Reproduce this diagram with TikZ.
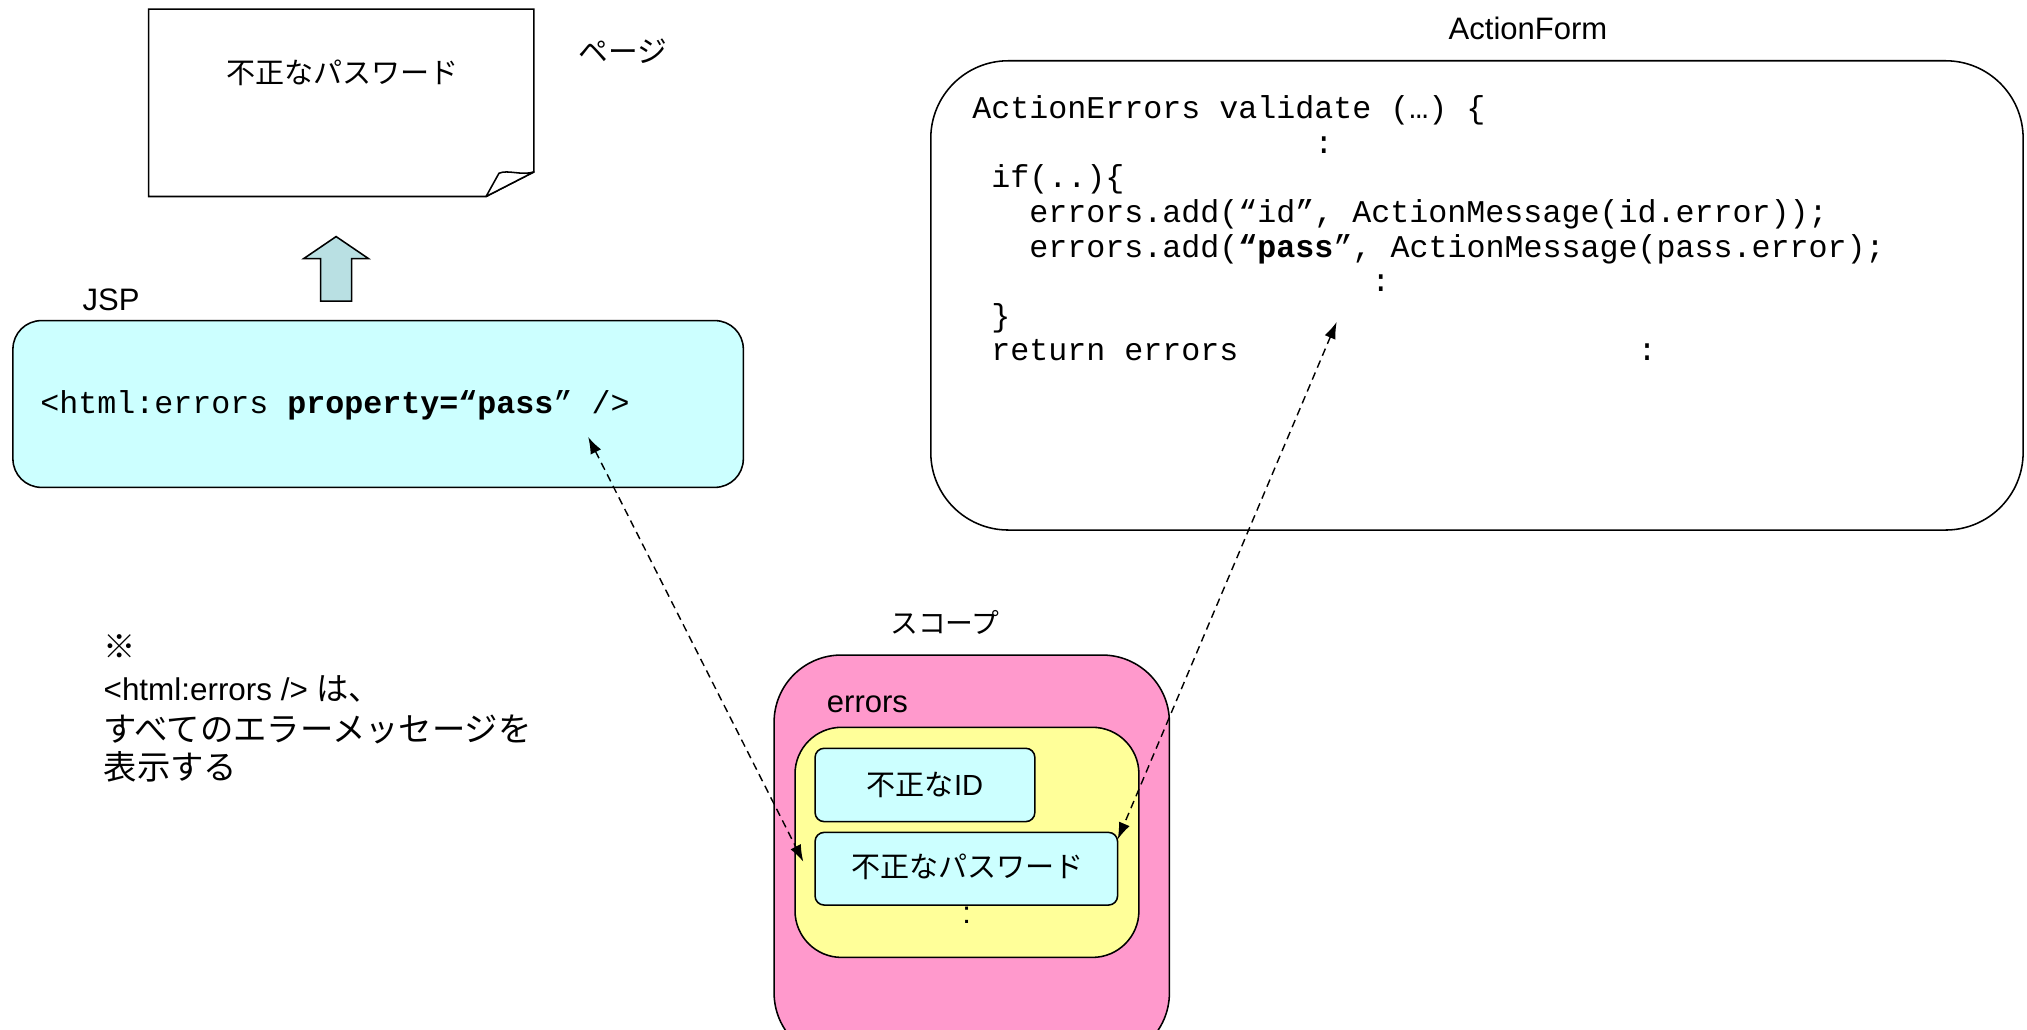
\documentclass[tikz,border=0pt]{standalone}
\usepackage{fontspec}
\setmainfont{Liberation Sans}
\setmonofont{Liberation Mono}
\newfontfamily\jp{Noto Sans CJK JP}
\usetikzlibrary{arrows.meta}

\definecolor{jspfill}{HTML}{CCFFFF}
\definecolor{scopefill}{HTML}{FF99CC}
\definecolor{listfill}{HTML}{FFFF99}
\definecolor{upfill}{HTML}{B9E0E3}

\begin{document}
\begin{tikzpicture}[x=1pt,y=-1pt,
  outline/.style={draw=black,line width=1.2pt},
  lbl/.style={font=\fontsize{24}{28}\selectfont,inner sep=0pt},
  jlbl/.style={font=\jp\fontsize{22.5}{28}\selectfont,inner sep=0pt},
  code/.style={font=\ttfamily\fontsize{24.5}{28}\selectfont,anchor=base west,inner sep=0pt},
  msgbox/.style={outline,fill=jspfill,rounded corners=7pt},
  link/.style={line width=1.1pt,dash pattern=on 6pt off 4pt,
    {Latex[length=13pt,width=9pt]}-{Latex[length=13pt,width=9pt]}}]

\useasboundingbox (0,0) rectangle (1568,796);

% --- page (sheet with a folded corner) ---
\draw[outline,fill=white] (115,7) -- (413,7) -- (413,133) -- (376,152) -- (115,152) -- cycle;
\draw[outline,fill=white,line join=round] (376,152) -- (386,134)
  .. controls (393,131) and (403,136) .. (413,133) -- cycle;
\node[jlbl] (pagetext) at (265,56) {不正なパスワード};
\node[jlbl,font=\jp\fontsize{23}{28}\selectfont] (pagelbl) at (482,40) {ページ};

% --- render arrow from JSP up to the page ---
\draw[outline,fill=upfill] (248,233) -- (248,200) -- (235,200) -- (260,183)
  -- (285,200) -- (272,200) -- (272,233) -- cycle;

% --- JSP ---
\node[lbl] (jsplbl) at (86,232) {JSP};
\draw[outline,fill=jspfill,rounded corners=22pt] (10,248) rectangle (575,377);
\node[code] (jsptag) at (31,320) {<html:errors \textbf{property=“pass}” />};
\coordinate (jspend) at (455,338);

% --- ActionForm ---
\node[lbl] (aflbl) at (1182,22) {ActionForm};
\draw[outline,fill=white,rounded corners=60pt] (720,47) rectangle (1565,410);
\node[code] (c1) at (752,92) {ActionErrors validate (…) \{};
\node[code] (c2) at (1016.6,118.7) {:};
\node[code] (c3) at (766.7,145.4) {if(..)\{};
\node[code] (c4) at (796.1,172.1) {errors.add(“id”, ActionMessage(id.error));};
\node[code] (c5) at (796.1,198.8) {errors.add(\textbf{“pass}”, ActionMessage(pass.error);};
\node[code] (c6) at (1060.7,225.5) {:};
\node[code] (c7) at (766.7,252.2) {\}};
\node[code] (c8) at (766.7,278.9) {return errors};
\node[code] (c9) at (1266.5,278.9) {:};
\coordinate (afend) at (1034,249);

% --- note ---
\node[anchor=north west,align=left,inner sep=0pt,
  font=\fontsize{24.3}{32}\selectfont] (note) at (80,491)
  {{\jp\fontsize{25}{32}\selectfont ※}\\
   <html:errors /> {\jp\fontsize{25}{32}\selectfont は、}\\
   {\jp\fontsize{25.8}{31}\selectfont すべてのエラーメッセージを}\\[-3pt]
   {\jp\fontsize{25.8}{29}\selectfont 表示する}};

% --- scope ---
\node[jlbl,font=\jp\fontsize{21.5}{28}\selectfont] (scopelbl) at (731,481.5) {スコープ};
\draw[outline,fill=scopefill,rounded corners=52pt] (598.8,506.7) rectangle (904.6,820);
\node[lbl] (errlbl) at (671,544.6) {errors};
\draw[outline,fill=listfill,rounded corners=36pt] (615,562.6) rectangle (881,740.6);
\node[msgbox,minimum width=170pt,minimum height=56.7pt,inner sep=0pt] (idmsg) at (715.5,607.2) {};
\node[jlbl] at (idmsg.center) {不正な\fontspec{Liberation Sans}ID};
\node[msgbox,minimum width=234pt,minimum height=56.2pt,inner sep=0pt] (pwmsg) at (747.5,672) {};
\node[jlbl] (pwtext) at (748.3,670.4) {不正なパスワード};
\node[lbl] (more) at (747.8,707.8) {:};

% --- links ---
\coordinate (pwleft) at (621.4,666.6);
\coordinate (pwright) at (864.6,649.3);
\draw[link] (jspend) -- (pwleft);
\draw[link] (afend) -- (pwright);
\end{tikzpicture}
\end{document}
